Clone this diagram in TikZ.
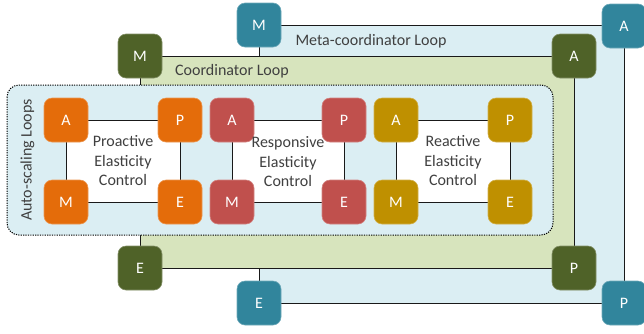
\documentclass[tikz,border=0pt]{standalone}
\usepackage{fontspec}
\setmainfont{Carlito}
\usetikzlibrary{backgrounds}
\definecolor{teal}{HTML}{31859C}
\definecolor{olive}{HTML}{4F6228}
\definecolor{orng}{HTML}{E46C0A}
\definecolor{rred}{HTML}{C0504D}
\definecolor{gold}{HTML}{BF9000}
\definecolor{lblue}{HTML}{DBEEF3}
\definecolor{lgreen}{HTML}{D7E4BD}
\definecolor{txt}{HTML}{404040}
\begin{document}
\begin{tikzpicture}[x=1pt,y=-1pt,
  box/.style={rectangle,rounded corners=8pt,minimum width=44pt,minimum height=44pt,inner sep=0pt,text=white,font=\fontsize{16}{19.5}\selectfont,line width=0.6pt},
  tealbox/.style={box,fill=teal,draw=teal!70!white},
  olivebox/.style={box,fill=olive,draw=olive!70!white},
  orngbox/.style={box,fill=orng,draw=orng!70!white},
  redbox/.style={box,fill=rred,draw=rred!70!white},
  goldbox/.style={box,fill=gold,draw=gold!70!white},
  loopline/.style={draw=black!90,line width=1pt},
  asbox/.style={draw=black,line width=1pt,dash pattern=on 1.2pt off 1.2pt,fill=lblue,rounded corners=12pt},
  lbl/.style={text=txt,font=\fontsize{16}{19.5}\selectfont,align=center,inner sep=0pt}]
\useasboundingbox (0,0) rectangle (644,333);
% meta-coordinator nodes
\node[tealbox] (mM) at (259,25) {M};
\node[tealbox] (mA) at (624,26) {A};
\node[tealbox] (mP) at (624,303) {P};
\node[tealbox] (mE) at (259,303) {E};
% coordinator nodes
\node[olivebox] (cM) at (140,56) {M};
\node[olivebox] (cA) at (574,56) {A};
\node[olivebox] (cP) at (574,268) {P};
\node[olivebox] (cE) at (140,268) {E};
% auto-scaling box corners
\coordinate (asTL) at (7,85);
\coordinate (asBR) at (553,235);
% proactive
\node[orngbox] (pA) at (66,120) {A};
\node[orngbox] (pP) at (180,120) {P};
\node[orngbox] (pE) at (180,202) {E};
\node[orngbox] (pM) at (66,202) {M};
% responsive
\node[redbox] (rA) at (232,120) {A};
\node[redbox] (rP) at (344,120) {P};
\node[redbox] (rE) at (344,202) {E};
\node[redbox] (rM) at (232,202) {M};
% reactive
\node[goldbox] (xA) at (396,120) {A};
\node[goldbox] (xP) at (510,120) {P};
\node[goldbox] (xE) at (510,202) {E};
\node[goldbox] (xM) at (396,202) {M};
% labels
\node[lbl] (metalbl) at (371,41) {Meta-coordinator Loop};
\node[lbl] (coordlbl) at (232,71) {Coordinator Loop};
\node[lbl,rotate=90] (aslbl) at (27.5,160) {Auto-scaling Loops};
\node[lbl] (plbl) at (123,161) {Proactive\\Elasticity\\Control};
\node[lbl] (rlbl) at (288,162) {Responsive\\Elasticity\\Control};
\node[lbl] (xlbl) at (453,161) {Reactive\\Elasticity\\Control};
\begin{pgfonlayer}{background}
  \path[loopline,fill=lblue] (mM.center) -- (mA.center |- mM.center) -- (mP.center) -- (mE.center) -- cycle;
  \path[loopline,fill=lgreen] (cM.center) -- (cA.center) -- (cP.center) -- (cE.center) -- cycle;
  \path[asbox] (asTL) rectangle (asBR);
  \path[loopline,fill=white] (pA.center) -- (pP.center) -- (pE.center) -- (pM.center) -- cycle;
  \path[loopline,fill=white] (rA.center) -- (rP.center) -- (rE.center) -- (rM.center) -- cycle;
  \path[loopline,fill=white] (xA.center) -- (xP.center) -- (xE.center) -- (xM.center) -- cycle;
\end{pgfonlayer}
\end{tikzpicture}
\end{document}
